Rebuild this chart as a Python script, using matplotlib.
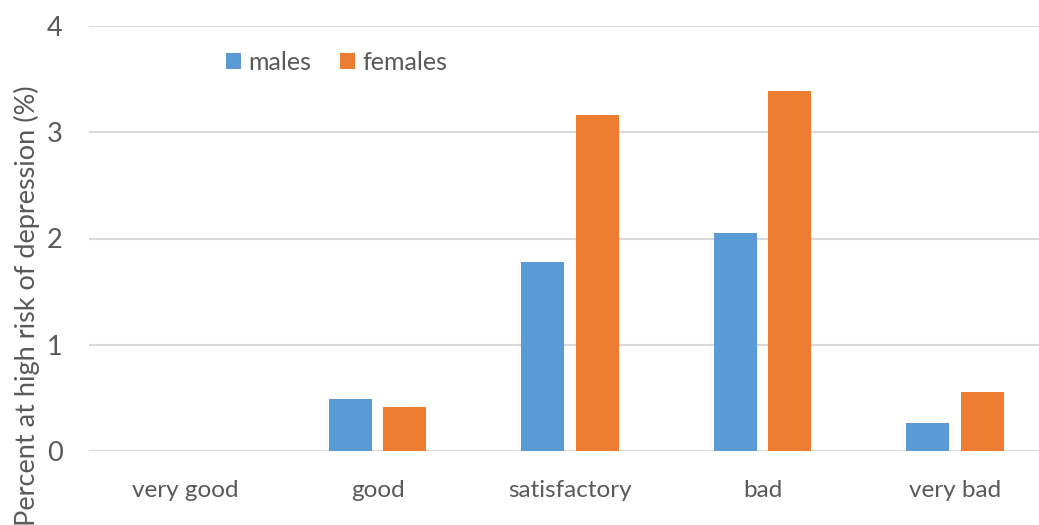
import matplotlib.pyplot as plt
import numpy as np

plt.rcParams['font.family'] = ['Lato', 'DejaVu Sans']

categories = ["very good", "good", "satisfactory", "bad", "very bad"]
males = [0.0, 0.49, 1.78, 2.05, 0.26]
females = [0.0, 0.41, 3.16, 3.39, 0.56]
yticks = [0, 1, 2, 3, 4]

blue = '#5B9BD5'
orange = '#ED7D31'
grey = '#595959'

fig = plt.figure(figsize=(10.39, 5.25), dpi=100)
W, H = 1039, 525
# plot area runs a bit past the right edge of the picture
ax = fig.add_axes([89 / W, 1 - 451 / H, (1051 - 89) / W, (451 - 26) / H])

x = np.arange(len(categories))
w = 0.223
off = 0.142
ax.bar(x - off, males, w, color=blue, label='males', zorder=3)
ax.bar(x + off, females, w, color=orange, label='females', zorder=3)

ax.set_xlim(-0.5, len(categories) - 0.5)
ax.set_ylim(0, 4)
ax.set_yticks(yticks)
ax.set_xticks(x)
ax.set_xticklabels(categories)
ax.grid(axis='y', color='#D9D9D9', linewidth=1.5, zorder=0)
ax.tick_params(length=0, labelsize=17.5, colors=grey)
ax.tick_params(axis='x', pad=21)
ax.tick_params(axis='y', pad=19, labelsize=19.5)
for s in ax.spines.values():
    s.set_visible(False)

fig.text(27 / W, 1 - 85 / H, 'Percent at high risk of depression (%)',
         rotation=90, ha='center', va='top', fontsize=19.5, color=grey)

ax.legend(loc='center left', bbox_to_anchor=(226 / W, 1 - 62 / H),
          bbox_transform=fig.transFigure, ncol=2, frameon=False,
          fontsize=18, labelcolor=grey, handlelength=0.6, handleheight=0.6,
          handletextpad=0.3, columnspacing=1.15, borderaxespad=0, borderpad=0)

fig.savefig('out.png', dpi=100)
